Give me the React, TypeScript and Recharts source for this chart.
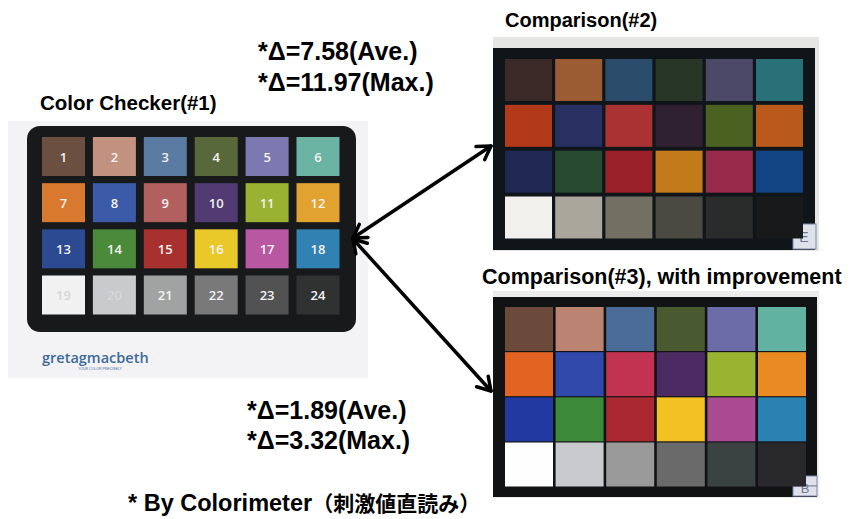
import React from "react";
import { ScatterChart, Scatter, XAxis, YAxis, LabelList } from "recharts";

// patch colours, row by row (6 columns x 4 rows)
const checkerColors = [
  "#6b5041", "#c2917f", "#5b7ba2", "#59683a", "#7b79b0", "#6bb3a3",
  "#d9782f", "#3b5aa8", "#b2605f", "#513b72", "#9ab232", "#e2a22f",
  "#2b4a92", "#4b8a3b", "#a8302f", "#e9c82a", "#b858a2", "#3181b3",
  "#f1f1f1", "#c9cacc", "#a1a2a2", "#787978", "#515251", "#303232",
];
const comparison2Colors = [
  "#3b2a27", "#9c5c33", "#2b4b6b", "#283628", "#4b4868", "#2a7079",
  "#b23a1b", "#283062", "#aa3232", "#2f2131", "#4a6121", "#ba5a1a",
  "#1f2852", "#284a31", "#9a2129", "#c27a1a", "#9a2a4b", "#124383",
  "#f1f0ec", "#aaa69b", "#737063", "#4a4a42", "#2a2b2b", "#17191b",
];
const comparison3Colors = [
  "#6b4a3b", "#ba8372", "#4b6b98", "#4a5a30", "#6c6ca9", "#62b2a1",
  "#e26322", "#3149aa", "#c23251", "#4b2b62", "#9ab432", "#e98b22",
  "#2139a1", "#3b8939", "#aa2931", "#f1c222", "#aa4a92", "#2a82b2",
  "#fefefe", "#c9cace", "#9a9a9b", "#6a6a6b", "#3b4342", "#29292c",
];
const patchNumbers = [
  "1", "2", "3", "4", "5", "6", "7", "8", "9", "10", "11", "12",
  "13", "14", "15", "16", "17", "18", "19", "20", "21", "22", "23", "24",
];
const deltaNo2 = ["*Δ=7.58(Ave.)", "*Δ=11.97(Max.)"];
const deltaNo3 = ["*Δ=1.89(Ave.)", "*Δ=3.32(Max.)"];

const W = 852;
const H = 519;

const toPatches = (colors: string[]) =>
  colors.map((color, i) => ({ col: i % 6, row: Math.floor(i / 6), color, n: patchNumbers[i] }));

const patchShape = (w: number, h: number) => (p: any) => (
  <rect x={p.cx - w / 2} y={p.cy - h / 2} width={w} height={h} fill={p.payload.color} />
);

function Arrow({ x1, y1, x2, y2 }: { x1: number; y1: number; x2: number; y2: number }) {
  const a = Math.atan2(y2 - y1, x2 - x1);
  const len = 15;
  const spread = 0.55;
  const head = (x: number, y: number, dir: number) =>
    `M${x + len * Math.cos(dir + spread)},${y + len * Math.sin(dir + spread)} L${x},${y} L${x + len * Math.cos(dir - spread)},${y + len * Math.sin(dir - spread)}`;
  return (
    <g stroke="#000" strokeWidth={3.5} fill="none" strokeLinecap="round" strokeLinejoin="round">
      <line x1={x1} y1={y1} x2={x2} y2={y2} />
      <path d={head(x1, y1, a)} />
      <path d={head(x2, y2, a + Math.PI)} />
    </g>
  );
}

const font = "'Liberation Sans', Arial, sans-serif";

export default function App() {
  return (
    <div style={{ position: "absolute", left: 0, top: 0, width: W, height: H, background: "#fff" }}>
      <ScatterChart width={W} height={H} margin={{ top: 0, right: 0, bottom: 0, left: 0 }}>
        {/* scanned paper + boards */}
        <g>
          <rect x={8} y={121} width={360} height={257} fill="#f3f3f6" />
          <rect x={27} y={126} width={329} height={206} rx={13} fill="#17191b" />
          <rect x={493} y={37} width={326} height={214} fill="#e6e6e4" />
          <rect x={493} y={48} width={322} height={202} fill="#10151a" />
          <rect x={493} y={291} width={326} height={207} fill="#ececec" />
          <rect x={493} y={297} width={324} height={200} fill="#111214" />
        </g>

        <XAxis xAxisId="g1" type="number" dataKey="col" domain={[0, 5]} padding={{ left: 63.5, right: 534 }} hide />
        <YAxis yAxisId="g1" type="number" dataKey="row" domain={[0, 3]} reversed padding={{ top: 156.5, bottom: 224 }} hide />
        <XAxis xAxisId="g2" type="number" dataKey="col" domain={[0, 5]} padding={{ left: 528.5, right: 72.5 }} hide />
        <YAxis yAxisId="g2" type="number" dataKey="row" domain={[0, 3]} reversed padding={{ top: 80, bottom: 301.5 }} hide />
        <XAxis xAxisId="g3" type="number" dataKey="col" domain={[0, 5]} padding={{ left: 529, right: 70 }} hide />
        <YAxis yAxisId="g3" type="number" dataKey="row" domain={[0, 3]} reversed padding={{ top: 329, bottom: 54.5 }} hide />

        <Scatter xAxisId="g1" yAxisId="g1" data={toPatches(checkerColors)} shape={patchShape(43, 39)} isAnimationActive={false}>
          <LabelList
            dataKey="n"
            content={(p: any) => (
              <text
                x={p.x + p.width / 2}
                y={p.y + p.height / 2 + 5}
                textAnchor="middle"
                fontSize={13}
                fontFamily="'Open Sans', 'DejaVu Sans', sans-serif"
                fontWeight={600}
                fill={p.value === "19" || p.value === "20" ? "#d6d6d8" : "#f2f2f2"}
              >
                {p.value}
              </text>
            )}
          />
        </Scatter>
        <Scatter xAxisId="g2" yAxisId="g2" data={toPatches(comparison2Colors)} shape={patchShape(47, 42)} isAnimationActive={false} />
        <Scatter xAxisId="g3" yAxisId="g3" data={toPatches(comparison3Colors)} shape={patchShape(48, 44)} isAnimationActive={false} />

        <g>
          <Arrow x1={353} y1={238} x2={491} y2={146} />
          <Arrow x1={353} y1={239} x2={491} y2={391} />

          {/* corner stamps */}
          <rect x={793} y={224} width={23} height={25} fill="#dfe2ea" stroke="#7d8aa6" strokeWidth={1} />
          <text x={804} y={242} textAnchor="middle" fontSize={14} fill="#6d7890" fontFamily={font}>E</text>
          <rect x={793} y={476} width={24} height={10} fill="#dfe2ea" stroke="#7d8aa6" strokeWidth={1} />
          <rect x={793} y={486} width={24} height={10} fill="#dfe2ea" stroke="#7d8aa6" strokeWidth={1} />
          <text x={805} y={493} textAnchor="middle" fontSize={13} fill="#6d7890" fontFamily={font}>B</text>

          <text x={42} y={363} fontSize={14.5} fontWeight={600} fill="#3d6a98" fontFamily="'Open Sans', 'DejaVu Sans', sans-serif">gretagmacbeth</text>
          <text x={78} y={370} fontSize={3.5} fill="#3d6a98" fontFamily={font}>YOUR COLOR PRECISELY</text>

          <g fontFamily={font} fontWeight="bold" fill="#000">
            <text x={40} y={110} fontSize={20.5}>Color Checker(#1)</text>
            <text x={505} y={27} fontSize={20}>Comparison(#2)</text>
            <text x={482} y={284} fontSize={21.5}>Comparison(#3), with improvement</text>
            {deltaNo2.map((t, i) => (
              <text key={t} x={258} y={60 + i * 31} fontSize={25}>{t}</text>
            ))}
            {deltaNo3.map((t, i) => (
              <text key={t} x={247} y={419 + i * 30} fontSize={25}>{t}</text>
            ))}
            <text x={128} y={511} fontSize={23.5}>
              * By Colorimeter
              <tspan fontSize={21} fontFamily="'Noto Sans CJK JP', sans-serif">（刺激値直読み）</tspan>
            </text>
          </g>
        </g>
      </ScatterChart>
    </div>
  );
}
